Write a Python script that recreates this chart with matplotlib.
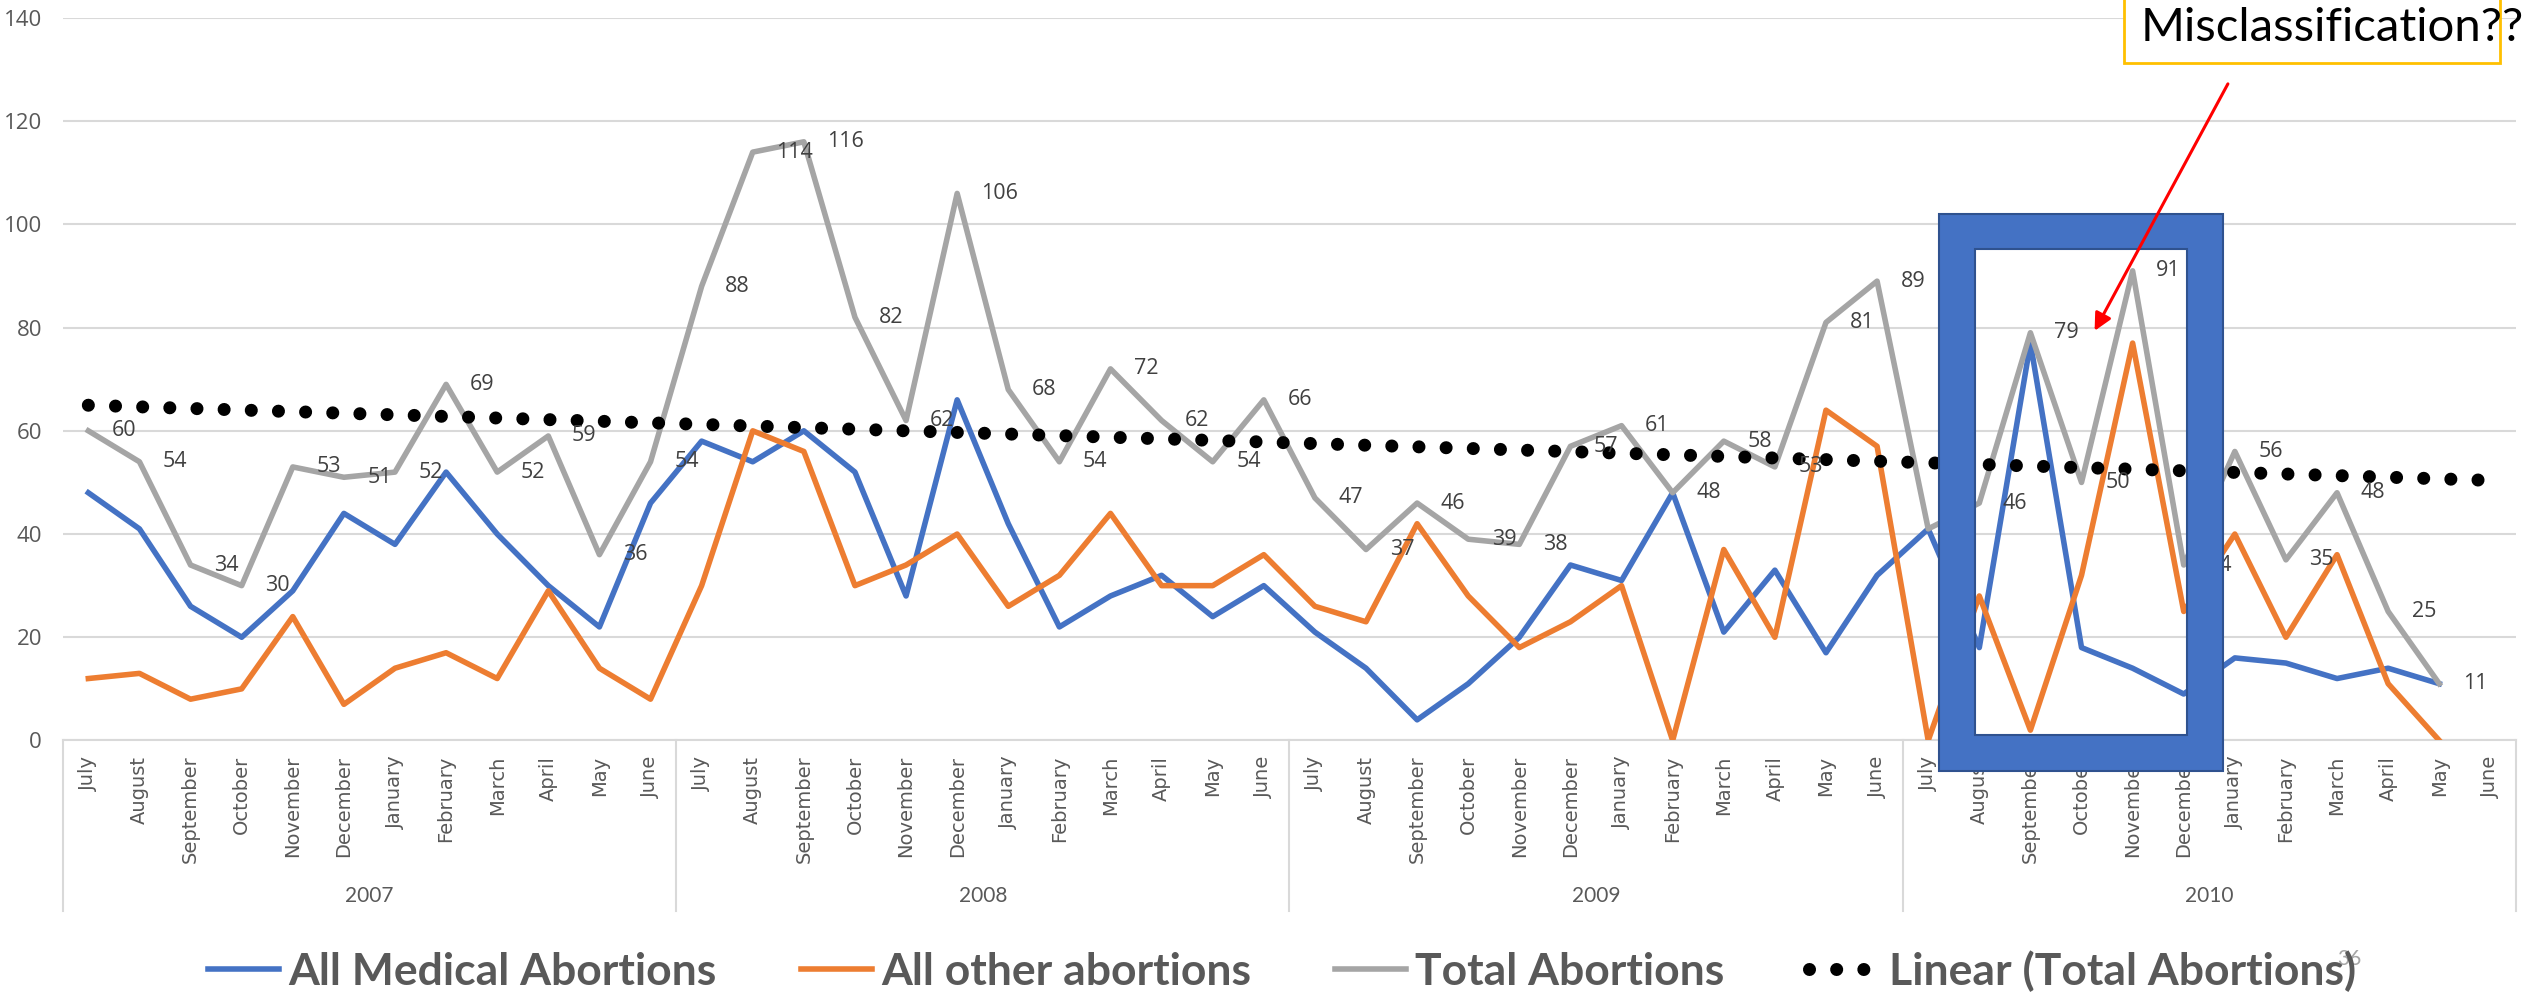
import numpy as np
import matplotlib.pyplot as plt
from matplotlib.path import Path
from matplotlib.patches import PathPatch, Rectangle
from matplotlib.lines import Line2D
from matplotlib.transforms import blended_transform_factory

# Datos
month_names = ['July', 'August', 'September', 'October', 'November', 'December',
               'January', 'February', 'March', 'April', 'May', 'June']
months = month_names * 4
years = ['2007', '2008', '2009', '2010']

medical = [48, 41, 26, 20, 29, 44, 38, 52, 40, 30, 22, 46,
           58, 54, 60, 52, 28, 66, 42, 22, 28, 32, 24, 30,
           21, 14, 4, 11, 20, 34, 31, 48, 21, 33, 17, 32,
           41, 18, 77, 18, 14, 9, 16, 15, 12, 14, 11, np.nan]
other = [12, 13, 8, 10, 24, 7, 14, 17, 12, 29, 14, 8,
         30, 60, 56, 30, 34, 40, 26, 32, 44, 30, 30, 36,
         26, 23, 42, 28, 18, 23, 30, 0, 37, 20, 64, 57,
         0, 28, 2, 32, 77, 25, 40, 20, 36, 11, 0, np.nan]
total = [60, 54, 34, 30, 53, 51, 52, 69, 52, 59, 36, 54,
         88, 114, 116, 82, 62, 106, 68, 54, 72, 62, 54, 66,
         47, 37, 46, 39, 38, 57, 61, 48, 58, 53, 81, 89,
         41, 46, 79, 50, 91, 34, 56, 35, 48, 25, 11, np.nan]

BLUE, ORANGE, GRAY = '#4472C4', '#ED7D31', '#A5A5A5'
TXT = '#595959'

x = np.arange(len(months))
tot = np.array(total, dtype=float)
ok = ~np.isnan(tot)
coef = np.polyfit(x[ok], tot[ok], 1)
trend = np.polyval(coef, x)

fig = plt.figure(figsize=(25.29, 9.97), dpi=100)
ax = fig.add_axes([0.02483, 0.2573, 0.9700, 0.7247])

dot_style = dict(color='black', lw=9.4, linestyle=(0, (0.001, 2.08)),
                 dash_capstyle='round')

ax.plot(x, medical, color=BLUE, lw=4, solid_joinstyle='round', zorder=3)
ax.plot(x, other, color=ORANGE, lw=4, solid_joinstyle='round', zorder=3)
ax.plot(x, total, color=GRAY, lw=4, solid_joinstyle='round', zorder=3)
ax.plot(x, trend, zorder=4, **dot_style)

# Etiquetas de datos (total)
for i, v in enumerate(total):
    if np.isnan(v):
        continue
    ax.annotate(f'{int(v)}', (i, v), xytext=(17, 0), textcoords='offset points',
                ha='left', va='center', fontsize=15.5, family='Open Sans',
                color='#404040', zorder=5)

ax.set_xlim(-0.5, len(months) - 0.5)
ax.set_ylim(0, 140)
ax.set_yticks(range(0, 141, 20))
ax.yaxis.grid(True, color='#D9D9D9', lw=1.5)
ax.set_axisbelow(True)
for s in ['left', 'right', 'top']:
    ax.spines[s].set_visible(False)
ax.spines['bottom'].set_color('#D9D9D9')
ax.spines['bottom'].set_linewidth(1.5)
ax.tick_params(axis='both', length=0)
ax.tick_params(axis='y', pad=15, labelsize=16, labelcolor=TXT)
for t in ax.get_yticklabels():
    t.set_family('Open Sans')

ax.set_xticks(x)
ax.set_xticklabels(months, rotation=90, fontsize=14, color=TXT, family='DejaVu Sans')
ax.tick_params(axis='x', pad=11)

# Eje de categorías de dos niveles
trans = blended_transform_factory(ax.transData, ax.transAxes)
for k in range(len(years) + 1):
    ax.plot([k * 12 - 0.5] * 2, [0, -0.2365], transform=trans, color='#D9D9D9',
            lw=1.5, clip_on=False)
for k, yr in enumerate(years):
    ax.text(k * 12 + 5.5, -0.2158, yr, transform=trans, ha='center', va='center',
            fontsize=15, family='Lato', color=TXT)

# Marco azul
x0, x1, y0, y1 = 36.22, 41.77, -5.9, 101.95
ix0, ix1, iy0, iy1 = 36.92, 41.07, 1.06, 95.2
verts = [(x0, y0), (x1, y0), (x1, y1), (x0, y1), (x0, y0),
         (ix0, iy0), (ix0, iy1), (ix1, iy1), (ix1, iy0), (ix0, iy0)]
codes = [Path.MOVETO, Path.LINETO, Path.LINETO, Path.LINETO, Path.CLOSEPOLY] * 2
ax.add_patch(PathPatch(Path(verts, codes), facecolor=BLUE, edgecolor='#2F528F',
                       lw=1.5, clip_on=False, zorder=6))

# Cuadro de texto y flecha
ax.add_patch(Rectangle((39.83, 131.2), 7.36, 20, facecolor='white', edgecolor='#FFC000',
                       lw=2, clip_on=False, zorder=6))
ax.text(43.9, 138.0, 'Misclassification??', ha='center', va='center', fontsize=34,
        family='Lato', color='black', zorder=7, clip_on=False)
ax.annotate('', xy=(39.23, 78.9), xytext=(41.89, 127.7),
            arrowprops=dict(arrowstyle='-|>', color='red', lw=2.2, mutation_scale=26),
            annotation_clip=False, zorder=7)

handles = [Line2D([], [], color=BLUE, lw=4),
           Line2D([], [], color=ORANGE, lw=4),
           Line2D([], [], color=GRAY, lw=4),
           Line2D([], [], **dot_style)]
labels = ['All Medical Abortions', 'All other abortions', 'Total Abortions',
          'Linear (Total Abortions)']
leg = fig.legend(handles, labels, loc='center', bbox_to_anchor=(0.507, 0.026), ncol=4,
                 frameon=False, handlelength=1.6, handletextpad=0.2, columnspacing=1.9,
                 prop={'family': 'Lato', 'weight': 'bold', 'size': 32})
for t in leg.get_texts():
    t.set_color(TXT)

fig.text(0.9288, 0.0381, '36', ha='center', va='center', fontsize=15, family='Lato',
         color='#A6A6A6')

fig.savefig('out.png', dpi=100)
